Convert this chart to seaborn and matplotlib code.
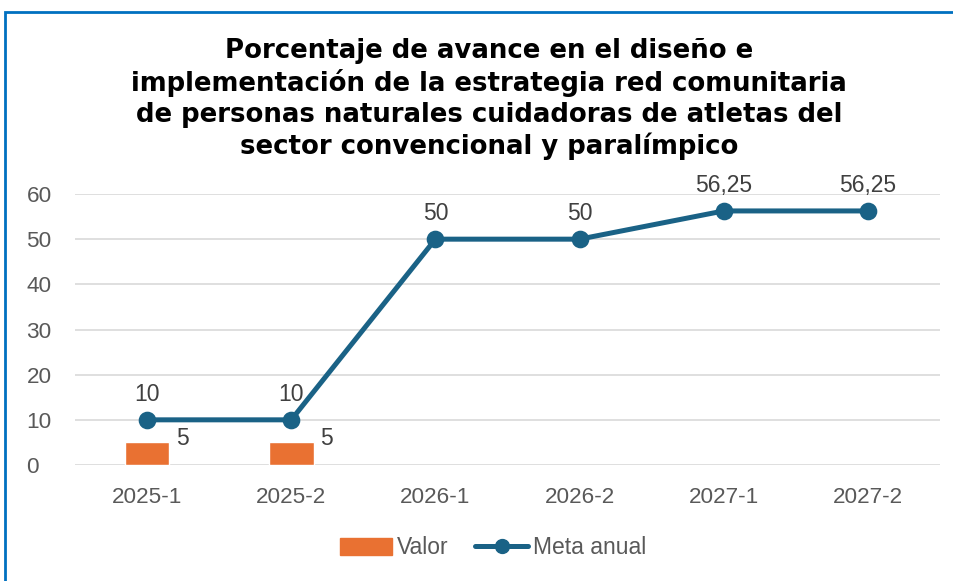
import numpy as np
import pandas as pd
import matplotlib
matplotlib.use("Agg")
import matplotlib.pyplot as plt
import matplotlib.patches as mpatches
from matplotlib.lines import Line2D
import seaborn as sns

# Data
periodos = ["2025-1", "2025-2", "2026-1", "2026-2", "2027-1", "2027-2"]
valor_periodos = ["2025-1", "2025-2"]
valor = [5, 5]
meta_anual = [10, 10, 50, 50, 56.25, 56.25]
y_ticks = [0, 10, 20, 30, 40, 50, 60]

titulo = ("Porcentaje de avance en el diseño e\n"
          "implementación de la estrategia red comunitaria\n"
          "de personas naturales cuidadoras de atletas del\n"
          "sector convencional y paralímpico")

COLOR_BAR = "#E97132"
COLOR_LINE = "#1A6286"
COLOR_TICK = "#595959"
COLOR_LABEL = "#404040"

sns.set_theme(style="white")
plt.rcParams["font.family"] = ["Liberation Sans", "DejaVu Sans"]

fig = plt.figure(figsize=(9.54, 5.81), dpi=100)
ax = fig.add_axes([75 / 954, 1 - 465 / 581, 865 / 954, (465 - 194) / 581])

df_valor = pd.DataFrame({"periodo": valor_periodos, "valor": valor})
df_meta = pd.DataFrame({"periodo": periodos, "meta": meta_anual})

sns.barplot(data=df_valor, x="periodo", y="valor", order=periodos,
            color=COLOR_BAR, width=0.31, saturation=1, ax=ax, zorder=2)
sns.pointplot(data=df_meta, x="periodo", y="meta", order=periodos,
              color=COLOR_LINE, markers="o", markersize=10, linewidth=3.6,
              ax=ax, zorder=3)

ax.set_ylim(0, 60)
ax.set_xlim(-0.5, len(periodos) - 0.5)
ax.set_yticks(y_ticks)
ax.yaxis.grid(True, color="#D9D9D9", linewidth=1.2)
ax.set_axisbelow(True)
for s in ax.spines.values():
    s.set_visible(False)
ax.set_xlabel("")
ax.set_ylabel("")
ax.tick_params(axis="both", length=0, labelsize=16.2, labelcolor=COLOR_TICK)
ax.tick_params(axis="x", pad=16)
ax.tick_params(axis="y", pad=35)
for lbl in ax.get_yticklabels():
    lbl.set_horizontalalignment("left")

def fmt(v):
    s = f"{v:.2f}".rstrip("0").rstrip(".")
    return s.replace(".", ",")

# Value labels
for i, v in enumerate(meta_anual):
    ax.annotate(fmt(v), (i, v), xytext=(0, 10), textcoords="offset points",
                ha="center", va="bottom", fontsize=16.5, color=COLOR_LABEL)
for p, v in zip(valor_periodos, valor):
    i = periodos.index(p)
    ax.annotate(fmt(v), (i + 0.155, v), xytext=(5, 3), textcoords="offset points",
                ha="left", va="center", fontsize=16.5, color=COLOR_LABEL)

fig.text(489 / 954, 1 - 99 / 581, titulo, ha="center", va="center",
         fontsize=18.7, fontweight="bold", color="#000000", linespacing=1.24,
         family=["DejaVu Sans"])

handles = [
    mpatches.Patch(color=COLOR_BAR, label="Valor"),
    Line2D([0], [0], color=COLOR_LINE, lw=3.6, marker="o", markersize=10,
           label="Meta anual"),
]
fig.legend(handles=handles, loc="center", bbox_to_anchor=(493 / 954, 1 - 548 / 581),
           ncol=2, frameon=False, fontsize=16.5, labelcolor=COLOR_TICK,
           handlelength=2.3, handletextpad=0.22, columnspacing=1.15)

# Chart frame
fig.add_artist(mpatches.Rectangle((5 / 954, -0.1), 1.2, 1.1 - 12 / 581,
                                  transform=fig.transFigure, fill=False,
                                  edgecolor="#0070C0", linewidth=2))

fig.savefig("out.png", dpi=100)
